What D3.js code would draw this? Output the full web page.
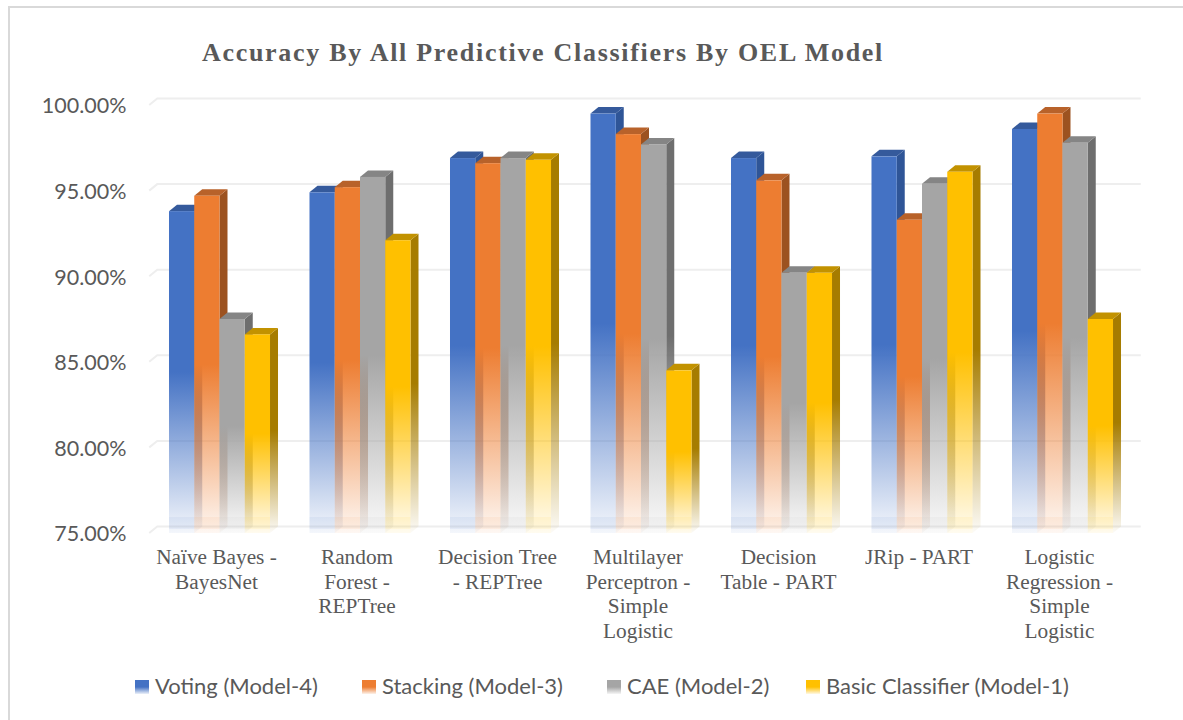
<!DOCTYPE html>
<html>
<head>
<meta charset="utf-8">
<script src="https://cdn.jsdelivr.net/npm/d3@7"></script>
<style>
	html, body { margin: 0; padding: 0; background: #fff; }
	svg { display: block; }
</style>
</head>
<body>
<div id="main-view"></div>
<script>
var categories = ["Naïve Bayes - BayesNet", "Random Forest - REPTree", "Decision Tree - REPTree", "Multilayer Perceptron - Simple Logistic", "Decision Table - PART", "JRip - PART", "Logistic Regression - Simple Logistic"];
var categoryLines = [
	["Naïve Bayes -", "BayesNet"],
	["Random", "Forest -", "REPTree"],
	["Decision Tree", "- REPTree"],
	["Multilayer", "Perceptron -", "Simple", "Logistic"],
	["Decision", "Table - PART"],
	["JRip - PART"],
	["Logistic", "Regression -", "Simple", "Logistic"]
];
var seriesNames = ["Voting (Model-4)", "Stacking (Model-3)", "CAE (Model-2)", "Basic Classifier (Model-1)"];
var voting = [93.8, 94.9, 96.9, 99.5, 96.9, 97.0, 98.6];
var stacking = [94.7, 95.2, 96.6, 98.3, 95.6, 93.3, 99.5];
var cae = [87.5, 95.8, 96.9, 97.7, 90.2, 95.4, 97.8];
var basic = [86.6, 92.1, 96.8, 84.5, 90.2, 96.1, 87.5];
var yTicks = [75, 80, 85, 90, 95, 100];

var seriesValues = [voting, stacking, cae, basic];
var frontColors = ["#4472c4", "#ed7d31", "#a5a5a5", "#ffc000"];
var sideColors = ["#2f5597", "#9c5220", "#6e6e6e", "#a67c00"];
var topColors = ["#355a9c", "#b8622a", "#858585", "#c29200"];

var width = 1183,
	height = 720;
var depthX = 8,
	depthY = 6.5;

var svg = d3.select("#main-view").append("svg")
	.attr("width", width)
	.attr("height", height);

var defs = svg.append("defs");

function addFade(id, color, lastOpacity) {
	var g = defs.append("linearGradient")
		.attr("id", id)
		.attr("x1", 0).attr("y1", 0)
		.attr("x2", 0).attr("y2", 1);
	g.append("stop").attr("offset", "0%").attr("stop-color", color);
	g.append("stop").attr("offset", "50%").attr("stop-color", color);
	g.append("stop").attr("offset", "100%").attr("stop-color", color).attr("stop-opacity", lastOpacity);
}

frontColors.forEach(function(c, i) {
	addFade("front" + i, c, 0.06);
	addFade("side" + i, sideColors[i], 0.03);
});

// chart frame
svg.append("path")
	.attr("d", "M9,720V7H1183")
	.attr("fill", "none")
	.attr("stroke", "#d9d9d9")
	.attr("stroke-width", 2);

var x = d3.scaleBand()
	.domain(categories)
	.range([149.25, 1132.75])
	.paddingInner(0.281)
	.paddingOuter(0.1405);

var xInner = d3.scaleBand()
	.domain(d3.range(seriesNames.length))
	.range([0, x.bandwidth()]);

var y = d3.scaleLinear()
	.domain([75, 100])
	.range([533, 105]);

// back wall gridlines with the slanted bit on the left side wall
var grid = svg.append("g");
yTicks.forEach(function(t) {
	grid.append("path")
		.attr("d", "M" + (x.range()[0]) + "," + y(t) +
			"L" + (x.range()[0] + depthX) + "," + (y(t) - depthY) +
			"H" + (x.range()[1] + depthX))
		.attr("fill", "none")
		.attr("stroke", "#eeeeee")
		.attr("stroke-width", 2);
});

// y axis labels
var yAxis = svg.append("g")
	.attr("transform", "translate(126.5,1)")
	.call(d3.axisLeft(y)
		.tickValues(yTicks)
		.tickSize(0)
		.tickPadding(0)
		.tickFormat(function(d) { return d3.format(".2f")(d) + "%"; }));
yAxis.select(".domain").remove();
yAxis.selectAll("text")
	.attr("font-family", "Lato")
	.attr("font-size", 21.5)
	.attr("fill", "#595959");

// bars, left to right so that each front hides the side of the one before
var groups = svg.selectAll(".group")
	.data(categories)
	.enter().append("g")
	.attr("class", "group")
	.attr("transform", function(d) { return "translate(" + x(d) + ",0)"; });

groups.each(function(cat, c) {
	var group = d3.select(this);
	seriesValues.forEach(function(vals, s) {
		var x0 = xInner(s),
			x1 = x0 + xInner.bandwidth(),
			yTop = y(vals[c]),
			yBase = y(75);

		group.append("path")
			.attr("d", "M" + x1 + "," + yTop + "L" + (x1 + depthX) + "," + (yTop - depthY) +
				"V" + (yBase - depthY) + "L" + x1 + "," + yBase + "Z")
			.attr("fill", "url(#side" + s + ")");
		group.append("path")
			.attr("d", "M" + x0 + "," + yTop + "L" + (x0 + depthX) + "," + (yTop - depthY) +
				"H" + (x1 + depthX) + "L" + x1 + "," + yTop + "Z")
			.attr("fill", topColors[s]);
		group.append("rect")
			.attr("x", x0)
			.attr("y", yTop)
			.attr("width", xInner.bandwidth())
			.attr("height", yBase - yTop)
			.attr("fill", "url(#front" + s + ")");
		// faint band near the floor
		group.append("rect")
			.attr("x", x0)
			.attr("y", yBase - 16)
			.attr("width", xInner.bandwidth())
			.attr("height", 12)
			.attr("fill", frontColors[s])
			.attr("opacity", 0.07);
	});
});

// category labels
var xAxis = svg.append("g")
	.attr("transform", "translate(-3,0)")
	.call(d3.axisBottom(x).tickSize(0).tickFormat(""))
	.attr("class", "x-axis");
xAxis.select(".domain").remove();
xAxis.selectAll(".tick text").remove();

xAxis.selectAll(".tick").each(function(d, i) {
	var t = d3.select(this).append("text")
		.attr("text-anchor", "middle")
		.attr("font-family", "Liberation Serif")
		.attr("font-size", 21.3)
		.attr("fill", "#595959");
	categoryLines[i].forEach(function(line, j) {
		t.append("tspan")
			.attr("x", 0)
			.attr("y", 564 + j * 24.6)
			.text(line);
	});
});

// title
svg.append("text")
	.attr("x", 202)
	.attr("y", 61)
	.attr("font-family", "Liberation Serif")
	.attr("font-weight", "bold")
	.attr("font-size", 26)
	.attr("letter-spacing", 1.7)
	.attr("fill", "#595959")
	.text("Accuracy By All Predictive Classifiers By OEL Model");

// legend
var legendX = [135, 362, 607, 806];
var legend = svg.selectAll(".legend")
	.data(seriesNames)
	.enter().append("g")
	.attr("class", "legend")
	.attr("transform", function(d, i) { return "translate(" + legendX[i] + ",680)"; });

frontColors.forEach(function(c, i) {
	var g = defs.append("linearGradient")
		.attr("id", "key" + i)
		.attr("x1", 0).attr("y1", 0)
		.attr("x2", 0).attr("y2", 1);
	g.append("stop").attr("offset", "50%").attr("stop-color", c);
	g.append("stop").attr("offset", "100%").attr("stop-color", c).attr("stop-opacity", 0.1);
});

legend.append("rect")
	.attr("width", 14)
	.attr("height", 14)
	.attr("fill", function(d, i) { return "url(#key" + i + ")"; });

legend.append("text")
	.attr("x", 20)
	.attr("y", 14)
	.attr("font-family", "Lato")
	.attr("font-size", 22)
	.attr("fill", "#595959")
	.text(function(d) { return d; });
</script>
</body>
</html>
